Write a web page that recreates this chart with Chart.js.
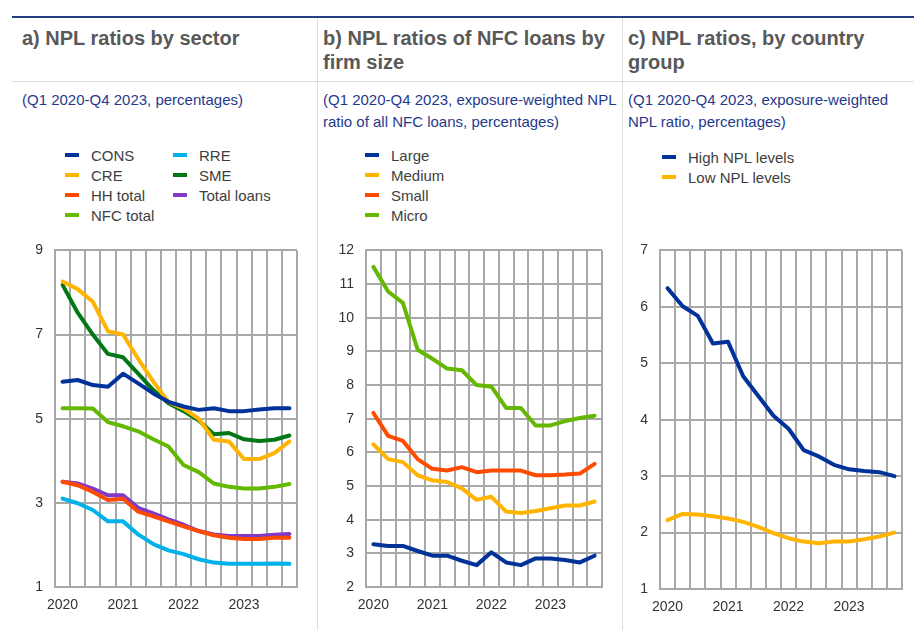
<!DOCTYPE html>
<html>
<head>
<meta charset="utf-8">
<script src="https://cdn.jsdelivr.net/npm/chart.js@4.4.0/dist/chart.umd.min.js"></script>
<style>
    body { margin: 0; background: #fff; font-family: Arial, "Liberation Sans", sans-serif; }
    #wrap { position: relative; width: 914px; height: 637px; overflow: hidden; background: #fff; }
    .rule-top { position: absolute; left: 12px; top: 16px; width: 902px; height: 2px; background: #22407a; }
    .rule-mid { position: absolute; left: 12px; top: 81px; width: 902px; height: 1px; background: #dcdcdc; }
    .vsep { position: absolute; top: 18px; width: 1px; height: 612px; background: #dcdcdc; }
    .title { position: absolute; top: 26px; font-weight: bold; font-size: 20px; line-height: 24px; color: #595959; white-space: nowrap; }
    .sub { position: absolute; top: 89px; font-size: 15px; line-height: 22px; color: #1f3a8c; white-space: nowrap; }
    .legend { position: absolute; display: grid; grid-auto-flow: column; grid-template-rows: repeat(4, 20px); font-size: 15px; color: #404040; }
    .legend .item { display: flex; align-items: center; white-space: nowrap; }
    .legend i { display: inline-block; width: 14px; height: 4px; margin-right: 12px; }
    .box { position: absolute; top: 230px; height: 395px; }
</style>
</head>
<body>
<div id="wrap">
    <div class="rule-top"></div>
    <div class="rule-mid"></div>
    <div class="vsep" style="left:317px"></div>
    <div class="vsep" style="left:622px"></div>

    <div class="title" style="left:22px">a) NPL ratios by sector</div>
    <div class="sub" style="left:22px">(Q1 2020-Q4 2023, percentages)</div>
    <div class="legend" id="legend-a" style="left:65px; top:145px; grid-template-columns:108px auto;"></div>
    <div class="box" style="left:0; width:305px;"><canvas id="sectorChart"></canvas></div>

    <div class="title" style="left:323px">b) NPL ratios of NFC loans by<br>firm size</div>
    <div class="sub" style="left:323px">(Q1 2020-Q4 2023, exposure-weighted NPL<br>ratio of all NFC loans, percentages)</div>
    <div class="legend" id="legend-b" style="left:365px; top:145px;"></div>
    <div class="box" style="left:310px; width:300px;"><canvas id="firmSizeChart"></canvas></div>

    <div class="title" style="left:628px">c) NPL ratios, by country<br>group</div>
    <div class="sub" style="left:628px">(Q1 2020-Q4 2023, exposure-weighted<br>NPL ratio, percentages)</div>
    <div class="legend" id="legend-c" style="left:662px; top:147px;"></div>
    <div class="box" style="left:615px; width:295px;"><canvas id="countryChart"></canvas></div>
</div>

<script>
// 四半期ラベル（Q1のみ年を表示）
const quarters = [
    'Q1 2020', 'Q2 2020', 'Q3 2020', 'Q4 2020',
    'Q1 2021', 'Q2 2021', 'Q3 2021', 'Q4 2021',
    'Q1 2022', 'Q2 2022', 'Q3 2022', 'Q4 2022',
    'Q1 2023', 'Q2 2023', 'Q3 2023', 'Q4 2023'
];

// a) セクター別
const consData = [5.88, 5.92, 5.80, 5.76, 6.07, 5.84, 5.60, 5.40, 5.29, 5.21, 5.25, 5.18, 5.18, 5.22, 5.25, 5.25];
const creData = [8.26, 8.08, 7.78, 7.08, 7.00, 6.42, 5.88, 5.40, 5.24, 5.00, 4.50, 4.46, 4.04, 4.04, 4.18, 4.46];
const hhData = [3.50, 3.42, 3.26, 3.07, 3.10, 2.79, 2.68, 2.56, 2.44, 2.33, 2.23, 2.17, 2.14, 2.14, 2.17, 2.17];
const nfcData = [5.25, 5.25, 5.24, 4.92, 4.82, 4.70, 4.51, 4.34, 3.90, 3.73, 3.46, 3.38, 3.34, 3.34, 3.38, 3.45];
const rreData = [3.10, 2.99, 2.83, 2.56, 2.56, 2.25, 2.02, 1.87, 1.78, 1.66, 1.58, 1.55, 1.55, 1.55, 1.56, 1.55];
const smeData = [8.18, 7.52, 7.00, 6.54, 6.46, 6.07, 5.68, 5.37, 5.18, 4.96, 4.63, 4.66, 4.51, 4.47, 4.50, 4.60];
const totalData = [3.50, 3.46, 3.34, 3.18, 3.18, 2.88, 2.75, 2.61, 2.48, 2.33, 2.25, 2.21, 2.21, 2.21, 2.24, 2.26];

// b) 企業規模別
const largeData = [3.27, 3.22, 3.22, 3.07, 2.93, 2.93, 2.78, 2.65, 3.03, 2.73, 2.65, 2.85, 2.85, 2.80, 2.73, 2.93];
const mediumData = [6.24, 5.80, 5.71, 5.32, 5.17, 5.12, 4.93, 4.59, 4.68, 4.24, 4.20, 4.26, 4.34, 4.42, 4.42, 4.54];
const smallData = [7.17, 6.49, 6.34, 5.80, 5.51, 5.46, 5.56, 5.41, 5.46, 5.46, 5.46, 5.32, 5.32, 5.34, 5.37, 5.66];
const microData = [11.51, 10.78, 10.44, 9.05, 8.78, 8.49, 8.44, 8.00, 7.95, 7.32, 7.32, 6.80, 6.80, 6.93, 7.02, 7.09];

// c) 国グループ別
const highNplData = [6.33, 6.01, 5.84, 5.35, 5.38, 4.77, 4.42, 4.07, 3.84, 3.46, 3.35, 3.20, 3.12, 3.09, 3.07, 3.00];
const lowNplData = [2.22, 2.33, 2.32, 2.29, 2.25, 2.19, 2.10, 1.99, 1.90, 1.84, 1.81, 1.84, 1.84, 1.88, 1.93, 2.00];

const FONT = 'Arial, "Liberation Sans", sans-serif';
const GRID = '#a8a8a8';

function line(label, data, color) {
    return {
        label: label,
        data: data,
        borderColor: color,
        backgroundColor: color,
        borderWidth: 4,
        pointRadius: 0,
        tension: 0,
        borderJoinStyle: 'round',
        borderCapStyle: 'round'
    };
}

function makeOptions(min, max, step, yWidth, xHeight) {
    return {
        responsive: true,
        maintainAspectRatio: false,
        animation: false,
        layout: { padding: { top: 15, right: 8, left: 0, bottom: 0 } },
        plugins: {
            legend: { display: false },
            title: { display: false },
            tooltip: { enabled: false }
        },
        scales: {
            x: {
                offset: true,
                grid: { offset: true, color: GRID, lineWidth: 2, drawTicks: false },
                border: { color: GRID, width: 2 },
                ticks: {
                    autoSkip: false,
                    maxRotation: 0,
                    padding: 10,
                    color: '#333',
                    font: { family: FONT, size: 14 },
                    callback: function(value) {
                        const q = this.getLabelForValue(value);
                        return q.startsWith('Q1') ? q.slice(3) : '';
                    }
                },
                afterFit: function(scale) { scale.height = xHeight; }
            },
            y: {
                min: min,
                max: max,
                grid: { color: GRID, lineWidth: 2, drawTicks: false },
                border: { color: GRID, width: 2 },
                ticks: {
                    stepSize: step,
                    padding: 12,
                    color: '#333',
                    font: { family: FONT, size: 14 }
                },
                afterFit: function(scale) { scale.width = yWidth; }
            }
        }
    };
}

// 凡例はHTMLで描画
function buildLegend(chart, elemId) {
    const box = document.getElementById(elemId);
    chart.data.datasets.forEach(ds => {
        const item = document.createElement('div');
        item.className = 'item';
        item.innerHTML = '<i style="background:' + ds.borderColor + '"></i>' + ds.label;
        box.appendChild(item);
    });
}

const ctxA = document.getElementById('sectorChart').getContext('2d');
const sectorChart = new Chart(ctxA, {
    type: 'line',
    data: {
        labels: quarters,
        datasets: [
            line('CONS', consData, '#003299'),
            line('CRE', creData, '#ffb400'),
            line('HH total', hhData, '#ff4b00'),
            line('NFC total', nfcData, '#65b800'),
            line('RRE', rreData, '#00b1ea'),
            line('SME', smeData, '#007816'),
            line('Total loans', totalData, '#8139c6')
        ]
    },
    options: makeOptions(1, 9, 2, 55, 38)
});
buildLegend(sectorChart, 'legend-a');

const ctxB = document.getElementById('firmSizeChart').getContext('2d');
const firmSizeChart = new Chart(ctxB, {
    type: 'line',
    data: {
        labels: quarters,
        datasets: [
            line('Large', largeData, '#003299'),
            line('Medium', mediumData, '#ffb400'),
            line('Small', smallData, '#ff4b00'),
            line('Micro', microData, '#65b800')
        ]
    },
    options: makeOptions(2, 12, 1, 56, 38)
});
buildLegend(firmSizeChart, 'legend-b');

const ctxC = document.getElementById('countryChart').getContext('2d');
const countryChart = new Chart(ctxC, {
    type: 'line',
    data: {
        labels: quarters,
        datasets: [
            line('High NPL levels', highNplData, '#003299'),
            line('Low NPL levels', lowNplData, '#ffb400')
        ]
    },
    options: makeOptions(1, 7, 1, 45, 36)
});
buildLegend(countryChart, 'legend-c');
</script>
</body>
</html>
